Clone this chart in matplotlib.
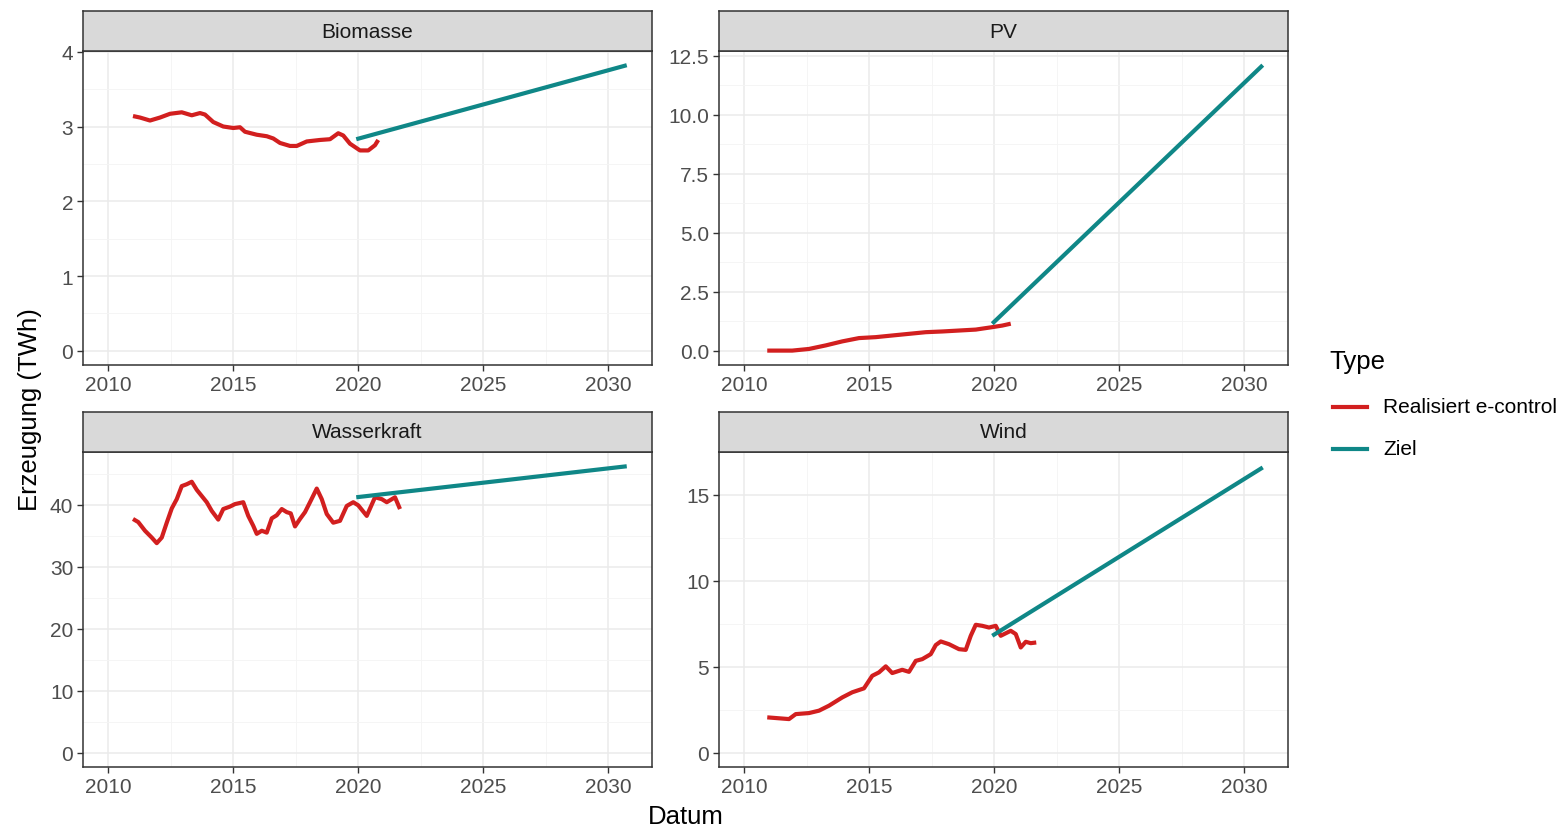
import numpy as np
import matplotlib
matplotlib.use("Agg")
import matplotlib.pyplot as plt

plt.rcParams['font.family'] = ['Liberation Sans', 'DejaVu Sans']

# Realised generation (e-control), TWh, rolling 12 months
bio_years = [2011.0, 2011.28, 2011.68, 2012.08, 2012.48, 2012.95, 2013.35, 2013.68, 2013.88, 2014.21,
             2014.61, 2015.01, 2015.28, 2015.48, 2015.95, 2016.35, 2016.61, 2016.88, 2017.28, 2017.55,
             2017.95, 2018.48, 2018.88, 2019.21, 2019.41, 2019.68, 2020.08, 2020.41, 2020.68, 2020.81]
bio_values = [3.14, 3.12, 3.08, 3.12, 3.17, 3.19, 3.15, 3.18, 3.16, 3.06,
              3.00, 2.98, 2.99, 2.93, 2.89, 2.87, 2.84, 2.78, 2.74, 2.74,
              2.80, 2.82, 2.83, 2.91, 2.88, 2.77, 2.68, 2.68, 2.75, 2.82]

pv_years = [2010.93, 2011.93, 2012.6, 2013.27, 2013.93, 2014.6, 2015.27, 2015.93, 2016.6, 2017.27,
            2017.93, 2018.6, 2019.27, 2019.91, 2020.33, 2020.67]
pv_values = [0.01, 0.01, 0.08, 0.23, 0.40, 0.54, 0.58, 0.65, 0.72, 0.79,
             0.82, 0.86, 0.90, 1.00, 1.07, 1.15]

hydro_years = [2011.0, 2011.21, 2011.48, 2011.75, 2011.95, 2012.15, 2012.35, 2012.55, 2012.75, 2012.95,
               2013.15, 2013.35, 2013.55, 2013.75, 2013.95, 2014.15, 2014.41, 2014.61, 2014.88, 2015.08,
               2015.41, 2015.61, 2015.81, 2015.95, 2016.15, 2016.35, 2016.55, 2016.75, 2016.95, 2017.15,
               2017.31, 2017.48, 2017.68, 2017.88, 2018.08, 2018.35, 2018.55, 2018.75, 2019.01, 2019.28,
               2019.55, 2019.81, 2020.01, 2020.35, 2020.68, 2020.95, 2021.15, 2021.48, 2021.68]
hydro_values = [37.7, 37.2, 35.8, 34.7, 33.8, 34.7, 37.1, 39.4, 40.9, 43.0,
                43.3, 43.7, 42.4, 41.4, 40.4, 39.0, 37.6, 39.3, 39.7, 40.1,
                40.4, 38.2, 36.6, 35.3, 35.8, 35.5, 37.8, 38.3, 39.3, 38.8,
                38.6, 36.5, 37.7, 38.8, 40.4, 42.6, 40.9, 38.5, 37.1, 37.4,
                39.8, 40.4, 39.9, 38.2, 41.2, 40.9, 40.4, 41.2, 39.3]

wind_years = [2010.93, 2011.8, 2012.07, 2012.6, 2013.0, 2013.4, 2013.93, 2014.33, 2014.8, 2015.13,
              2015.4, 2015.67, 2015.93, 2016.33, 2016.6, 2016.87, 2017.13, 2017.47, 2017.67, 2017.87,
              2018.2, 2018.6, 2018.87, 2019.07, 2019.27, 2019.53, 2019.8, 2020.07, 2020.27, 2020.67,
              2020.87, 2021.07, 2021.27, 2021.47, 2021.69]
wind_values = [2.05, 1.95, 2.24, 2.30, 2.44, 2.73, 3.21, 3.51, 3.74, 4.47,
               4.67, 5.02, 4.63, 4.82, 4.70, 5.34, 5.44, 5.73, 6.26, 6.47,
               6.31, 6.02, 5.98, 6.80, 7.44, 7.38, 7.28, 7.38, 6.80, 7.09,
               6.90, 6.12, 6.45, 6.37, 6.41]

# Target path (Ziel): start and end points
target_years = [2019.93, 2030.75]
bio_target = [2.83, 3.82]
pv_target = [1.15, 12.1]
hydro_target = [41.2, 46.2]
wind_target = [6.8, 16.6]

panels = [
    ("Biomasse", bio_years, bio_values, bio_target, [0, 1, 2, 3, 4], ["0", "1", "2", "3", "4"], (-0.19, 4.01)),
    ("PV", pv_years, pv_values, pv_target, [0, 2.5, 5, 7.5, 10, 12.5],
     ["0.0", "2.5", "5.0", "7.5", "10.0", "12.5"], (-0.6, 12.7)),
    ("Wasserkraft", hydro_years, hydro_values, hydro_target, [0, 10, 20, 30, 40],
     ["0", "10", "20", "30", "40"], (-2.3, 48.5)),
    ("Wind", wind_years, wind_values, wind_target, [0, 5, 10, 15], ["0", "5", "10", "15"], (-0.84, 17.5)),
]

red = '#d21f1f'
teal = '#0f8787'
dark = '#333333'

W, H = 1557, 828
fig = plt.figure(figsize=(W / 100, H / 100), dpi=100)

# panel boxes in pixels: (left, top, right, bottom)
boxes = [(83, 52, 652, 366), (719, 52, 1288, 366), (83, 453, 652, 768), (719, 453, 1288, 768)]
strip_h = 40

for (name, xs, ys, tgt, yt, ylab, ylim), (l, t, r, b) in zip(panels, boxes):
    ax = fig.add_axes([l / W, 1 - b / H, (r - l) / W, (b - t) / H])
    ax.plot(xs, ys, color=red, lw=3.0, solid_capstyle='butt', solid_joinstyle='round', zorder=3)
    ax.plot(target_years, tgt, color=teal, lw=3.0, solid_capstyle='butt', zorder=3)
    ax.set_xlim(2009.0, 2031.76)
    ax.set_ylim(*ylim)
    ax.set_xticks([2010, 2015, 2020, 2025, 2030])
    ax.set_xticks([2012.5, 2017.5, 2022.5, 2027.5], minor=True)
    ax.set_yticks(yt)
    ax.set_yticklabels(ylab)
    step = yt[1] - yt[0]
    ymin = [v + step / 2 for v in yt if v + step / 2 < ylim[1]]
    ax.set_yticks(ymin, minor=True)
    ax.grid(True, which='major', color='#ebebeb', lw=1.1, zorder=0)
    ax.grid(True, which='minor', color='#f4f4f4', lw=0.6, zorder=0)
    ax.tick_params(which='major', direction='out', length=4, width=1, color=dark,
                   labelsize=15, labelcolor='#4d4d4d', pad=3)
    ax.tick_params(which='minor', length=0)
    for s in ax.spines.values():
        s.set_color(dark)
        s.set_linewidth(1.1)

    # facet strip on top of each panel
    sx = fig.add_axes([l / W, 1 - t / H, (r - l) / W, strip_h / H])
    sx.set_facecolor('#d9d9d9')
    sx.set_xticks([])
    sx.set_yticks([])
    for s in sx.spines.values():
        s.set_color(dark)
        s.set_linewidth(1.1)
    sx.text(0.5, 0.5, name, ha='center', va='center', fontsize=15, color='#1a1a1a',
            transform=sx.transAxes)

fig.text(30 / W, 1 - 410 / H, "Erzeugung (TWh)", rotation=90, ha='center', va='center', fontsize=18.5)
fig.text(686 / W, 1 - 817 / H, "Datum", ha='center', va='center', fontsize=18.5)

# legend
fig.text(1329 / W, 1 - 362 / H, "Type", ha='left', va='center', fontsize=18.5)
for yy, col, lab in [(408, red, "Realisiert e-control"), (450, teal, "Ziel")]:
    fig.add_artist(plt.Line2D([1333 / W, 1367 / W], [1 - yy / H, 1 - yy / H], color=col, lw=3.0,
                              transform=fig.transFigure))
    fig.text(1383 / W, 1 - yy / H, lab, ha='left', va='center', fontsize=15)

fig.savefig("out.png", dpi=100)
